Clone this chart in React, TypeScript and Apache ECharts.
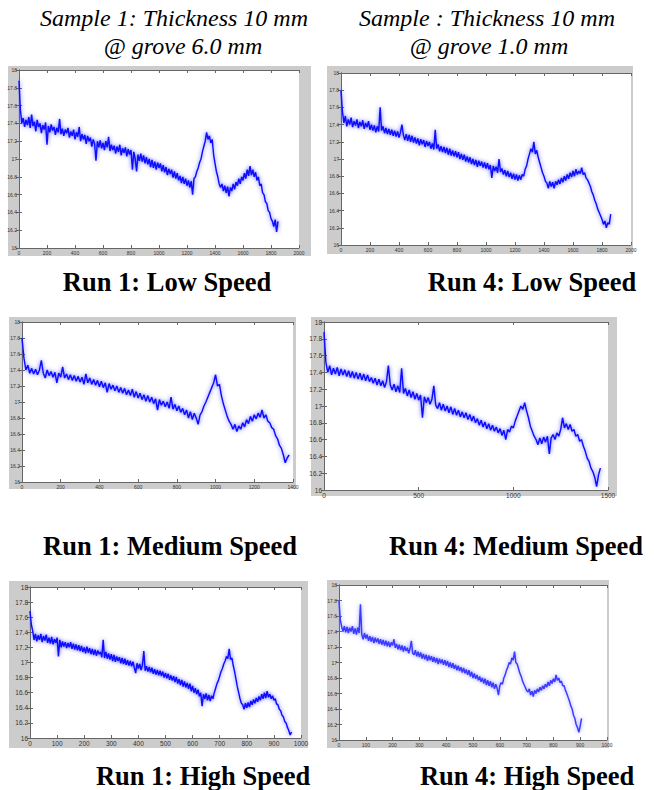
import React, { useEffect, useRef } from "react";
import * as echarts from "echarts";

// ---------- DATA ----------
const yTicks = { min: 16, max: 18, interval: 0.2 };

// Run 1, low speed (sample 1, grove 6.0 mm) — one value every 10 samples
const run1LowStep = 10;
const run1LowY = [
  17.88, 17.55, 17.40, 17.46, 17.36, 17.44, 17.38, 17.47, 17.35, 17.50,
  17.37, 17.42, 17.31, 17.44, 17.36, 17.40, 17.29, 17.38, 17.33, 17.41,
  17.16, 17.37, 17.30, 17.39, 17.32, 17.36, 17.27, 17.35, 17.30, 17.45,
  17.28, 17.34, 17.26, 17.33, 17.29, 17.35, 17.24, 17.31, 17.26, 17.33,
  17.22, 17.30, 17.25, 17.36, 17.20, 17.28, 17.22, 17.27, 17.17, 17.26,
  17.20, 17.24, 17.14, 17.22, 17.17, 16.98, 17.20, 17.13, 17.21, 17.12,
  17.18, 17.10, 17.20, 17.13, 17.25, 17.09, 17.16, 17.10, 17.15, 17.06,
  17.14, 17.08, 17.16, 17.04, 17.12, 17.07, 17.13, 17.03, 17.11, 17.05,
  17.10, 16.88, 17.08, 17.00, 16.86, 17.05, 16.98, 17.06, 16.97, 17.04,
  16.95, 17.02, 16.94, 17.00, 16.91, 16.99, 16.90, 16.97, 16.88, 16.96,
  16.90, 16.95, 16.86, 16.93, 16.85, 16.91, 16.82, 16.89, 16.83, 16.88,
  16.79, 16.86, 16.78, 16.84, 16.76, 16.81, 16.73, 16.80, 16.72, 16.78,
  16.70, 16.76, 16.68, 16.75, 16.60, 16.78, 16.80, 16.86, 16.90, 16.96,
  17.00, 17.08, 17.14, 17.20, 17.30, 17.22, 17.26, 17.18, 17.22, 17.05,
  16.95, 16.86, 16.80, 16.72, 16.68, 16.72, 16.64, 16.70, 16.62, 16.69,
  16.58, 16.68, 16.64, 16.72, 16.66, 16.74, 16.70, 16.78, 16.72, 16.80,
  16.76, 16.84, 16.78, 16.88, 16.81, 16.92, 16.82, 16.88, 16.80, 16.85,
  16.76, 16.80, 16.70, 16.72, 16.62, 16.60, 16.52, 16.50, 16.42, 16.40,
  16.33, 16.30, 16.24, 16.32, 16.18, 16.30,
];

// Run 4, low speed (grove 1.0 mm)
const run4LowStep = 10;
const run4LowY = [
  17.80, 17.55, 17.42, 17.50, 17.38, 17.46, 17.40, 17.48, 17.37, 17.44,
  17.39, 17.46, 17.36, 17.43, 17.38, 17.45, 17.35, 17.42, 17.37, 17.44,
  17.34, 17.40, 17.33, 17.39, 17.31, 17.38, 17.32, 17.60, 17.33, 17.38,
  17.30, 17.36, 17.29, 17.35, 17.28, 17.34, 17.27, 17.33, 17.26, 17.32,
  17.25, 17.31, 17.40, 17.28, 17.22, 17.29, 17.21, 17.28, 17.20, 17.27,
  17.19, 17.25, 17.18, 17.24, 17.16, 17.23, 17.17, 17.22, 17.14, 17.21,
  17.15, 17.20, 17.12, 17.18, 17.11, 17.34, 17.12, 17.17, 17.09, 17.15,
  17.08, 17.14, 17.07, 17.13, 17.05, 17.12, 17.04, 17.10, 17.03, 17.09,
  17.02, 17.08, 17.00, 17.06, 16.99, 17.05, 16.97, 17.03, 16.96, 17.02,
  16.94, 17.00, 16.93, 16.99, 16.91, 16.98, 16.92, 16.97, 16.90, 16.96,
  16.89, 16.95, 16.88, 16.93, 16.78, 16.92, 16.86, 16.91, 16.84, 17.00,
  16.85, 16.89, 16.82, 16.87, 16.80, 16.86, 16.79, 16.84, 16.77, 16.83,
  16.76, 16.82, 16.75, 16.81, 16.76, 16.82, 16.80, 16.88, 16.92, 17.00,
  17.06, 17.12, 17.08, 17.20, 17.06, 17.10, 17.02, 16.96, 16.90, 16.84,
  16.80, 16.74, 16.72, 16.66, 16.74, 16.68, 16.73, 16.66, 16.74, 16.70,
  16.76, 16.71, 16.78, 16.73, 16.80, 16.75, 16.82, 16.77, 16.84, 16.79,
  16.86, 16.80, 16.88, 16.82, 16.86, 16.83, 16.90, 16.82, 16.84, 16.78,
  16.76, 16.72, 16.68, 16.62, 16.58, 16.52, 16.48, 16.42, 16.38, 16.34,
  16.30, 16.24, 16.28, 16.20, 16.26, 16.24, 16.36,
];

// Run 1, medium speed
const run1MedStep = 10;
const run1MedY = [
  17.80, 17.55, 17.40, 17.46, 17.36, 17.42, 17.35, 17.41, 17.34, 17.40,
  17.52, 17.36, 17.30, 17.40, 17.33, 17.38, 17.31, 17.37, 17.24, 17.36,
  17.31, 17.44, 17.30, 17.35, 17.28, 17.34, 17.27, 17.33, 17.26, 17.32,
  17.25, 17.31, 17.22, 17.35, 17.24, 17.30, 17.22, 17.28, 17.21, 17.27,
  17.19, 17.26, 17.18, 17.24, 17.12, 17.23, 17.16, 17.21, 17.14, 17.20,
  17.12, 17.18, 17.11, 17.17, 17.09, 17.15, 17.08, 17.16, 17.06, 17.13,
  17.05, 17.11, 17.03, 17.09, 17.01, 17.08, 17.00, 17.06, 16.98, 17.04,
  16.90, 17.03, 16.96, 17.01, 16.94, 17.00, 16.92, 17.06, 16.91, 16.97,
  16.89, 16.95, 16.87, 16.92, 16.84, 16.90, 16.80, 16.88, 16.78, 16.86,
  16.80, 16.72, 16.84, 16.88, 16.95, 17.00, 17.06, 17.12, 17.18, 17.24,
  17.34, 17.20, 17.22, 17.08, 16.98, 16.90, 16.82, 16.76, 16.72, 16.66,
  16.72, 16.63, 16.70, 16.66, 16.74, 16.69, 16.78, 16.73, 16.82, 16.76,
  16.84, 16.79, 16.86, 16.81, 16.90, 16.80, 16.84, 16.76, 16.74, 16.68,
  16.66, 16.58, 16.54, 16.46, 16.42, 16.34, 16.24, 16.30, 16.34,
];

// Run 4, medium speed
const run4MedStep = 10;
const run4MedY = [
  17.88, 17.52, 17.40, 17.48, 17.37, 17.45, 17.38, 17.46, 17.36, 17.44,
  17.37, 17.43, 17.35, 17.42, 17.34, 17.41, 17.33, 17.40, 17.32, 17.39,
  17.31, 17.38, 17.30, 17.37, 17.29, 17.34, 17.27, 17.33, 17.25, 17.32,
  17.24, 17.30, 17.22, 17.29, 17.48, 17.25, 17.19, 17.26, 17.17, 17.24,
  17.16, 17.45, 17.15, 17.21, 17.12, 17.19, 17.10, 17.17, 17.08, 17.15,
  17.07, 17.13, 16.86, 17.11, 17.04, 17.10, 17.02, 17.08, 17.24, 17.01,
  16.97, 17.04, 16.95, 17.02, 16.94, 17.00, 16.92, 16.99, 16.90, 16.97,
  16.89, 16.95, 16.87, 16.93, 16.86, 16.92, 16.84, 16.90, 16.82, 16.88,
  16.80, 16.85, 16.77, 16.83, 16.75, 16.81, 16.73, 16.79, 16.71, 16.77,
  16.70, 16.75, 16.68, 16.73, 16.65, 16.71, 16.60, 16.72, 16.69, 16.76,
  16.74, 16.82, 16.88, 16.94, 17.00, 16.96, 17.04, 16.94, 16.86, 16.76,
  16.70, 16.64, 16.60, 16.54, 16.62, 16.55, 16.63, 16.57, 16.64, 16.43,
  16.62, 16.66, 16.60, 16.68, 16.64, 16.72, 16.86, 16.74, 16.79, 16.72,
  16.78, 16.70, 16.72, 16.64, 16.66, 16.58, 16.60, 16.52, 16.46, 16.38,
  16.34, 16.26, 16.22, 16.15, 16.04, 16.18, 16.26,
];

// Run 1, high speed
const run1HighStep = 5;
const run1HighY = [
  17.68, 17.50, 17.42, 17.30, 17.38, 17.28, 17.36, 17.30, 17.38, 17.27,
  17.35, 17.29, 17.37, 17.26, 17.33, 17.25, 17.34, 17.24, 17.31, 17.26,
  17.33, 17.08, 17.30, 17.20, 17.28, 17.21, 17.27, 17.19, 17.26, 17.20,
  17.27, 17.18, 17.25, 17.17, 17.24, 17.16, 17.23, 17.15, 17.22, 17.14,
  17.20, 17.12, 17.21, 17.13, 17.19, 17.11, 17.18, 17.10, 17.17, 17.09,
  17.16, 17.11, 17.14, 17.07, 17.30, 17.06, 17.14, 17.05, 17.12, 17.04,
  17.11, 17.02, 17.10, 17.01, 17.08, 17.02, 17.07, 16.99, 17.06, 16.98,
  17.05, 16.97, 17.03, 16.96, 17.02, 16.95, 17.01, 16.93, 16.86, 16.99,
  16.92, 16.98, 16.90, 16.97, 17.15, 16.89, 16.95, 16.88, 16.94, 16.87,
  16.93, 16.85, 16.91, 16.84, 16.90, 16.83, 16.89, 16.82, 16.88, 16.80,
  16.86, 16.79, 16.85, 16.77, 16.83, 16.76, 16.82, 16.74, 16.81, 16.72,
  16.78, 16.70, 16.77, 16.68, 16.75, 16.67, 16.73, 16.65, 16.72, 16.62,
  16.69, 16.60, 16.66, 16.58, 16.64, 16.55, 16.60, 16.42, 16.58, 16.52,
  16.59, 16.50, 16.57, 16.49, 16.56, 16.52, 16.60, 16.66, 16.72, 16.76,
  16.82, 16.88, 16.92, 16.98, 17.02, 17.08, 17.05, 17.18, 17.04, 17.06,
  16.96, 16.88, 16.78, 16.68, 16.60, 16.52, 16.46, 16.44, 16.38, 16.46,
  16.40, 16.47, 16.41, 16.49, 16.44, 16.51, 16.46, 16.53, 16.48, 16.55,
  16.50, 16.58, 16.52, 16.60, 16.53, 16.62, 16.54, 16.58, 16.52, 16.56,
  16.50, 16.52, 16.45, 16.44, 16.38, 16.36, 16.30, 16.28, 16.22, 16.20,
  16.14, 16.10, 16.04, 16.08,
];

// Run 4, high speed
const run4HighStep = 5;
const run4HighY = [
  17.80, 17.55, 17.46, 17.40, 17.47, 17.39, 17.46, 17.38, 17.45, 17.40,
  17.47, 17.37, 17.44, 17.36, 17.45, 17.38, 17.75, 17.36, 17.30, 17.38,
  17.31, 17.36, 17.28, 17.34, 17.27, 17.33, 17.25, 17.32, 17.26, 17.31,
  17.24, 17.30, 17.23, 17.29, 17.22, 17.28, 17.21, 17.27, 17.20, 17.26,
  17.22, 17.30, 17.19, 17.24, 17.17, 17.23, 17.16, 17.22, 17.14, 17.21,
  17.15, 17.19, 17.12, 17.18, 17.28, 17.12, 17.10, 17.16, 17.08, 17.14,
  17.07, 17.13, 17.05, 17.11, 17.04, 17.10, 17.02, 17.09, 17.03, 17.08,
  17.01, 17.07, 17.00, 17.06, 16.98, 17.05, 16.99, 17.04, 16.97, 17.03,
  16.96, 17.02, 16.94, 17.00, 16.93, 16.99, 16.92, 16.97, 16.90, 16.96,
  16.89, 16.94, 16.87, 16.93, 16.86, 16.91, 16.84, 16.90, 16.82, 16.88,
  16.80, 16.86, 16.79, 16.84, 16.77, 16.82, 16.75, 16.80, 16.73, 16.79,
  16.71, 16.77, 16.70, 16.76, 16.68, 16.74, 16.66, 16.72, 16.67, 16.58,
  16.70, 16.74, 16.72, 16.80, 16.84, 16.90, 16.94, 17.00, 16.98, 17.06,
  17.03, 17.14, 17.00, 16.98, 16.92, 16.86, 16.82, 16.76, 16.72, 16.68,
  16.64, 16.62, 16.66, 16.58, 16.63, 16.56, 16.64, 16.60, 16.66, 16.62,
  16.68, 16.64, 16.70, 16.66, 16.72, 16.68, 16.75, 16.70, 16.77, 16.73,
  16.79, 16.75, 16.84, 16.77, 16.80, 16.74, 16.76, 16.70, 16.70, 16.64,
  16.60, 16.55, 16.50, 16.44, 16.40, 16.32, 16.28, 16.20, 16.16, 16.10,
  16.18, 16.28,
];

const titles = [
  "Sample 1: Thickness 10 mm",
  "@ grove 6.0 mm",
  "Sample : Thickness 10 mm",
  "@ grove 1.0 mm",
];
const captions = [
  "Run 1: Low Speed",
  "Run 4: Low Speed",
  "Run 1: Medium Speed",
  "Run 4: Medium Speed",
  "Run 1: High Speed",
  "Run 4: High Speed",
];

// ---------- LAYOUT ----------
type Panel = {
  values: number[];
  step: number;
  xMax: number;
  xInterval: number;
  frame: [number, number, number, number];
  plot: [number, number, number, number];
  fs: number;
  color: string;
  glow: string;
};

const panels: Panel[] = [
  { values: run1LowY, step: run1LowStep, xMax: 2000, xInterval: 200, frame: [8, 66, 303, 190], plot: [19, 70, 280, 178], fs: 5, color: "#1010ff", glow: "rgba(70,70,255,0.85)" },
  { values: run4LowY, step: run4LowStep, xMax: 2000, xInterval: 200, frame: [327, 66, 306, 188], plot: [341, 73, 290, 172], fs: 5, color: "#1010ff", glow: "rgba(70,70,255,0.85)" },
  { values: run1MedY, step: run1MedStep, xMax: 1400, xInterval: 200, frame: [9, 317, 287, 172], plot: [22, 322, 271, 160], fs: 5, color: "#1010ff", glow: "rgba(70,70,255,0.85)" },
  { values: run4MedY, step: run4MedStep, xMax: 1500, xInterval: 500, frame: [311, 317, 306, 179], plot: [324, 322, 284, 168], fs: 6.5, color: "#1010ff", glow: "rgba(70,70,255,0.85)" },
  { values: run1HighY, step: run1HighStep, xMax: 1000, xInterval: 100, frame: [9, 581, 299, 167], plot: [30, 587, 271, 151], fs: 6.5, color: "#1010ff", glow: "rgba(70,70,255,0.85)" },
  { values: run4HighY, step: run4HighStep, xMax: 1000, xInterval: 100, frame: [327, 580, 282, 168], plot: [339, 585, 268, 155], fs: 5, color: "#3a3aff", glow: "rgba(120,120,255,0.8)" },
];

const captionPos: [number, number][] = [
  [167, 282], [532, 282], [170, 546], [516, 546], [203, 776], [527, 776],
];
const titlePos: [number, number][] = [
  [174, 18], [183, 46], [487, 18], [489, 46],
];

const fmtY = (v: number) => String(+v.toFixed(1));
const fmtX = (v: number) => String(Math.round(v));

export default function App() {
  const ref = useRef<HTMLDivElement>(null);
  useEffect(() => {
    if (!ref.current) return;
    const chart = echarts.init(ref.current, null, { renderer: "svg" });
    const grid: any[] = [];
    const xAxis: any[] = [];
    const yAxis: any[] = [];
    const series: any[] = [];
    const graphic: any[] = [];

    panels.forEach((p, i) => {
      const [fx, fy, fw, fh] = p.frame;
      const [px, py, pw, ph] = p.plot;
      graphic.push({ type: "rect", z: -20, shape: { x: fx, y: fy, width: fw, height: fh }, style: { fill: "#cccccc" } });
      graphic.push({ type: "rect", z: -19, shape: { x: px, y: py, width: pw, height: ph }, style: { fill: "#ffffff" } });
      grid.push({ left: px, top: py, width: pw, height: ph, containLabel: false });
      const axisLine = { show: true, lineStyle: { color: "#666", width: 1 } };
      const axisTick = { show: true, inside: true, length: 3, lineStyle: { color: "#666" } };
      const lbl = { fontSize: p.fs, color: "#333", fontFamily: "Arial, sans-serif", margin: 2 };
      xAxis.push({
        type: "value", gridIndex: i, position: "bottom", min: 0, max: p.xMax, interval: p.xInterval,
        axisLine, axisTick, splitLine: { show: false }, axisLabel: { ...lbl, formatter: fmtX },
      });
      xAxis.push({
        type: "value", gridIndex: i, position: "top", min: 0, max: p.xMax, interval: p.xInterval,
        axisLine, axisTick, splitLine: { show: false }, axisLabel: { show: false },
      });
      yAxis.push({
        type: "value", gridIndex: i, position: "left", min: yTicks.min, max: yTicks.max, interval: yTicks.interval,
        axisLine, axisTick, splitLine: { show: false }, axisLabel: { ...lbl, formatter: fmtY },
      });
      yAxis.push({
        type: "value", gridIndex: i, position: "right", min: yTicks.min, max: yTicks.max, interval: yTicks.interval,
        axisLine, axisTick, splitLine: { show: false }, axisLabel: { show: false },
      });
      series.push({
        type: "line", xAxisIndex: 2 * i, yAxisIndex: 2 * i, showSymbol: false, symbol: "none",
        lineStyle: { color: p.color, width: 1.5, shadowBlur: 4, shadowColor: p.glow },
        data: p.values.map((v, k) => [k * p.step, v]),
      });
    });

    titles.forEach((t, i) => {
      graphic.push({
        type: "text", x: titlePos[i][0], y: titlePos[i][1],
        style: {
          text: t, fontFamily: "Liberation Serif", fontStyle: "italic", fontSize: 24,
          fill: "#000", textAlign: "center", textVerticalAlign: "middle",
        },
      });
    });
    captions.forEach((t, i) => {
      graphic.push({
        type: "text", x: captionPos[i][0], y: captionPos[i][1],
        style: {
          text: t, fontFamily: "Liberation Serif", fontWeight: "bold", fontSize: 26.5,
          fill: "#000", textAlign: "center", textVerticalAlign: "middle",
        },
      });
    });

    chart.setOption({
      animation: false,
      backgroundColor: "#ffffff",
      grid, xAxis, yAxis, series, graphic,
    });
    return () => chart.dispose();
  }, []);
  return <div ref={ref} style={{ position: "absolute", left: 0, top: 0, width: 654, height: 790 }} />;
}
